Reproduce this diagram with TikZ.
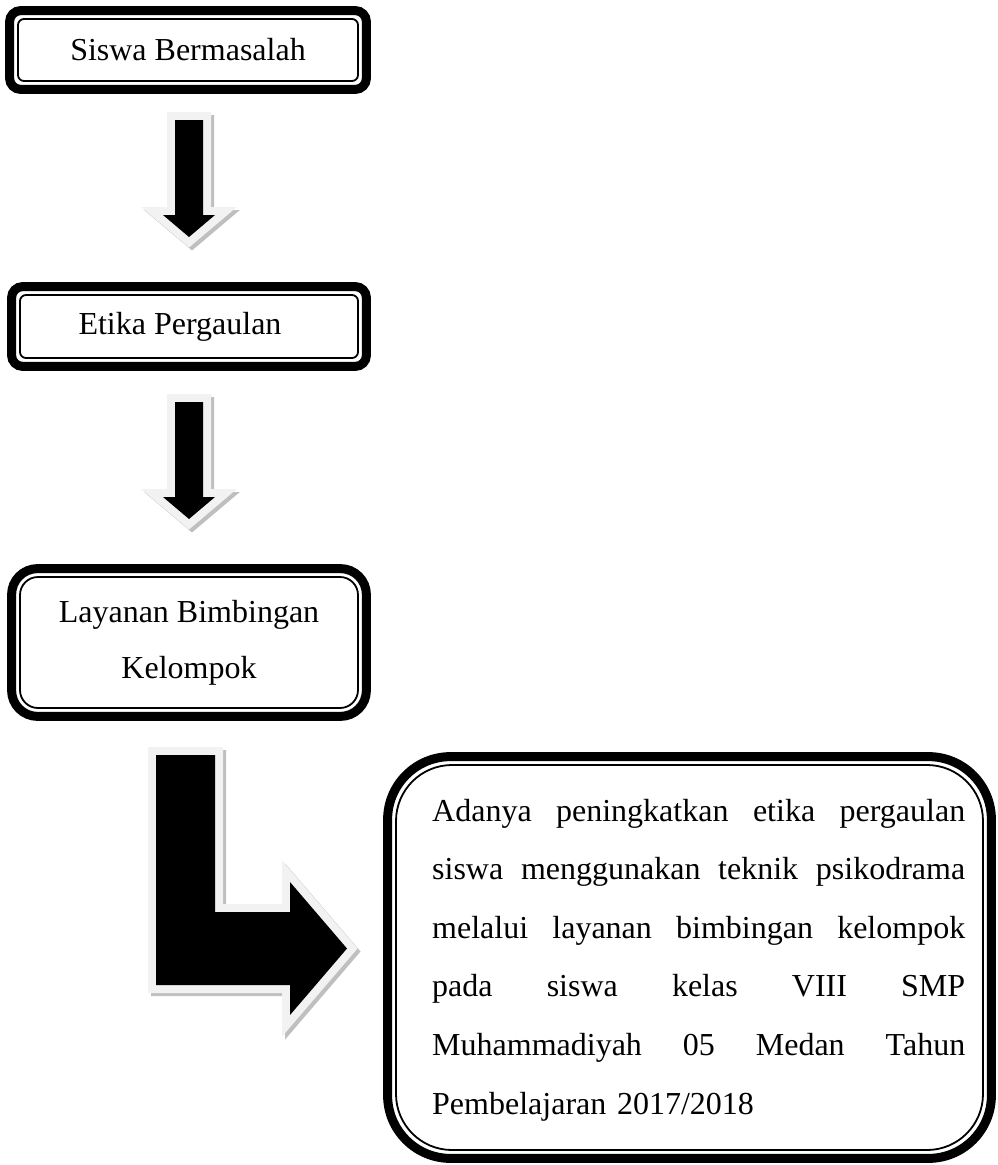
\documentclass[tikz,border=0pt]{standalone}
\usepackage{fontspec}
\setmainfont{Liberation Serif}
\usetikzlibrary{calc}
\definecolor{rimgray}{HTML}{F2F2F2}
\definecolor{shadowgray}{HTML}{BFBFBF}
\tikzset{
  innerbox/.style={draw, line width=1.8pt, rounded corners=#1, inner sep=0pt,
    align=center, font=\fontsize{32}{56}\selectfont},
  outerframe/.style={draw, line width=9pt, rounded corners=#1},
  arrowshadow/.style={fill=shadowgray, draw=shadowgray, line width=16pt, line join=miter},
  arrowrim/.style={fill=rimgray, draw=rimgray, line width=16pt, line join=miter},
  arrowbody/.style={fill=black},
  bodytext/.style={anchor=base west, inner sep=0pt, text width=533pt, align=left,
    font=\fontsize{32}{58.6}\selectfont},
}
\newcommand{\jline}[1]{\leavevmode\hbox to 533pt{#1}}
\begin{document}
\begin{tikzpicture}[x=1pt,y=-1pt]
\useasboundingbox (0,0) rectangle (998,1165);

% boxes
\node[innerbox=6pt, minimum width=340pt, minimum height=62pt] (b1) at (188,50) {Siswa Bermasalah};
\draw[outerframe=11pt] ($(b1.north west)+(-7.5,-7.5)$) rectangle ($(b1.south east)+(7.5,7.5)$);

\node[innerbox=6pt, minimum width=338pt, minimum height=63pt] (b2) at (189,326.5) {\hspace*{-18pt}Etika Pergaulan};
\draw[outerframe=11pt] ($(b2.north west)+(-7.5,-7.5)$) rectangle ($(b2.south east)+(7.5,7.5)$);

\node[innerbox=18pt, minimum width=338pt, minimum height=131pt] (b3) at (189,642.5) {Layanan Bimbingan\\Kelompok};
\draw[outerframe=26pt] ($(b3.north west)+(-7.5,-7.5)$) rectangle ($(b3.south east)+(7.5,7.5)$);

\node[innerbox=56pt, minimum width=587pt, minimum height=385pt] (b4) at (689.5,957.5) {};
\draw[outerframe=63pt] ($(b4.north west)+(-7.5,-7.5)$) rectangle ($(b4.south east)+(7.5,7.5)$);

\node[bodytext] (t4) at (432,821) {\jline{Adanya\hfill peningkatkan\hfill etika\hfill pergaulan}\\
\jline{siswa\hfill menggunakan\hfill teknik\hfill psikodrama}\\
\jline{melalui\hfill layanan\hfill bimbingan\hfill kelompok}\\
\jline{pada\hfill siswa\hfill kelas\hfill VIII\hfill SMP}\\
\jline{Muhammadiyah\hfill 05\hfill Medan\hfill Tahun}\\
Pembelajaran 2017/2018};

% straight arrows
\foreach \dy in {0,282}{
\begin{scope}[yshift=-\dy pt]
\path[arrowshadow, shift={(3,3)}] (175,120)--(203,120)--(203,215)--(215,215)--(189,237)--(163,215)--(175,215)--cycle;
\path[arrowrim] (175,120)--(203,120)--(203,215)--(215,215)--(189,237)--(163,215)--(175,215)--cycle;
\path[arrowbody] (175,120)--(203,120)--(203,215)--(215,215)--(189,237)--(163,215)--(175,215)--cycle;
\end{scope}}

% bent arrow
\path[arrowshadow, shift={(3,3)}] (156,755)--(215,755)--(215,912)--(290,912)--(290,882)--(347,948.5)--(290,1015)--(290,985)--(156,985)--cycle;
\path[arrowrim] (156,755)--(215,755)--(215,912)--(290,912)--(290,882)--(347,948.5)--(290,1015)--(290,985)--(156,985)--cycle;
\path[arrowbody] (156,755)--(215,755)--(215,912)--(290,912)--(290,882)--(347,948.5)--(290,1015)--(290,985)--(156,985)--cycle;
\end{tikzpicture}
\end{document}
